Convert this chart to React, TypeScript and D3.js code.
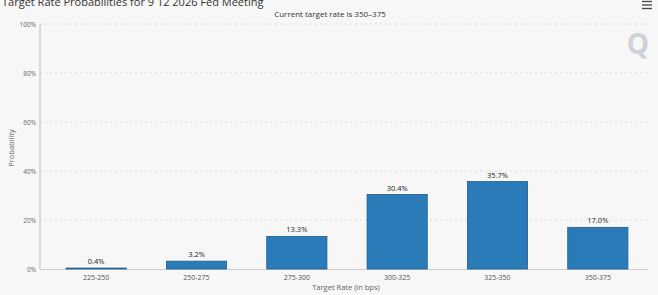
import React from "react";
import * as d3 from "d3";

const categories = ["225-250", "250-275", "275-300", "300-325", "325-350", "350-375"];
const probabilities = [0.4, 3.2, 13.3, 30.4, 35.7, 17.0];
const yTicks = [0, 20, 40, 60, 80, 100];

const W = 658, H = 295;
const M = { left: 41, right: 5, top: 24, bottom: 26 };
const AXIS_X = 40;

export default function App() {
  const x = d3.scaleBand<string>().domain(categories).range([M.left, W - M.right]).paddingInner(0.4).paddingOuter(0.25);
  const y = d3.scaleLinear().domain([0, 100]).range([H - M.bottom, M.top]);
  const font = "'Open Sans', 'DejaVu Sans', sans-serif";
  return (
    <svg width={W} height={H} style={{ position: "absolute", left: 0, top: 0, background: "#f7f7f7" }} fontFamily={font}>
      <rect x={0} y={0} width={W} height={H} fill="#f7f7f7" />
      <text x={2} y={6} fontSize={11} fill="#333">Target Rate Probabilities for 9 12 2026 Fed Meeting</text>
      <text x={330} y={17} fontSize={8} fill="#333" textAnchor="middle">Current target rate is 350–375</text>
      <g stroke="#444" strokeWidth={1.3}>
        <line x1={642} x2={652} y1={1.5} y2={1.5} />
        <line x1={642} x2={652} y1={5} y2={5} />
        <line x1={642} x2={652} y1={8.5} y2={8.5} />
      </g>
      <text x={638} y={54} fontSize={28} fontWeight="bold" fill="#c4cbd2" textAnchor="middle" opacity={0.8}>Q</text>
      {yTicks.map(t => (
        <g key={t}>
          {t > 0 && <line x1={AXIS_X} x2={W - 10} y1={y(t)} y2={y(t)} stroke="#dcdcdc" strokeDasharray="2,3" />}
          <text x={AXIS_X - 4} y={y(t) + 2.5} fontSize={6.5} fill="#666" textAnchor="end">{t}%</text>
        </g>
      ))}
      <line x1={AXIS_X} x2={AXIS_X} y1={M.top} y2={H - M.bottom} stroke="#bbb" />
      <line x1={AXIS_X} x2={W - 10} y1={H - M.bottom + 0.5} y2={H - M.bottom + 0.5} stroke="#ccc" />
      {categories.map((c, i) => (
        <g key={c}>
          <rect x={x(c)!} y={y(probabilities[i])} width={x.bandwidth()} height={y(0) - y(probabilities[i])} fill="#2b7bb9" stroke="#1f5f8f" strokeWidth={0.8} />
          <text x={x(c)! + x.bandwidth() / 2} y={y(probabilities[i]) - 4} fontSize={7.5} fill="#222" textAnchor="middle">{probabilities[i].toFixed(1)}%</text>
          <text x={x(c)! + x.bandwidth() / 2} y={H - 15} fontSize={7} fill="#555" textAnchor="middle">{c}</text>
        </g>
      ))}
      <text x={346} y={290} fontSize={7.5} fill="#666" textAnchor="middle">Target Rate (in bps)</text>
      <text transform={`translate(14,148) rotate(-90)`} fontSize={7.5} fill="#666" textAnchor="middle">Probability</text>
    </svg>
  );
}
